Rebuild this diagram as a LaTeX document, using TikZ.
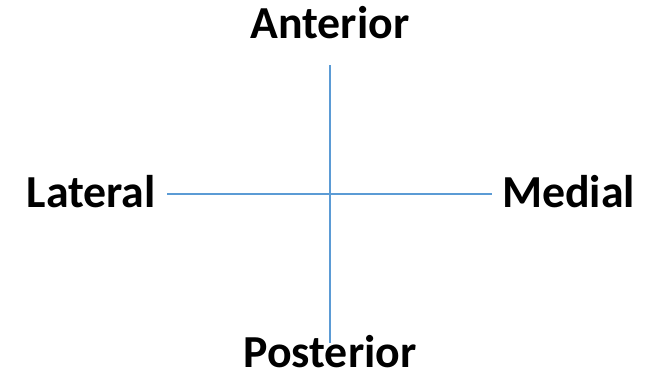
\documentclass[tikz,border=0pt]{standalone}
\usepackage{fontspec}
\setmainfont{Carlito}
\usepackage{tikz}
\usetikzlibrary{positioning}
\definecolor{axisblue}{RGB}{91,155,213}

\begin{document}
\begin{tikzpicture}[
  x=1bp, y=1bp,
  font=\fontsize{46}{54}\selectfont\bfseries,
  label/.style={inner sep=0pt},
  axis/.style={draw=axisblue, line width=1.3bp}
]
\useasboundingbox (0,0) rectangle (660,383);
\coordinate (top) at (330,318);
\coordinate (bottom) at (330,40);
\coordinate (left) at (167,189);
\coordinate (right) at (492,189);

\node[label,anchor=base] (ant) at (330,345) {Anterior};
\node[label,anchor=base] (post) at (330,16) {Posterior};
\node[label,anchor=base east] (lat) at (156,176) {Lateral};
\node[label,anchor=base west] (med) at (502,176) {Medial};

\draw[axis] (top) -- (bottom);
\draw[axis] (left) -- (right);
\end{tikzpicture}
\end{document}
